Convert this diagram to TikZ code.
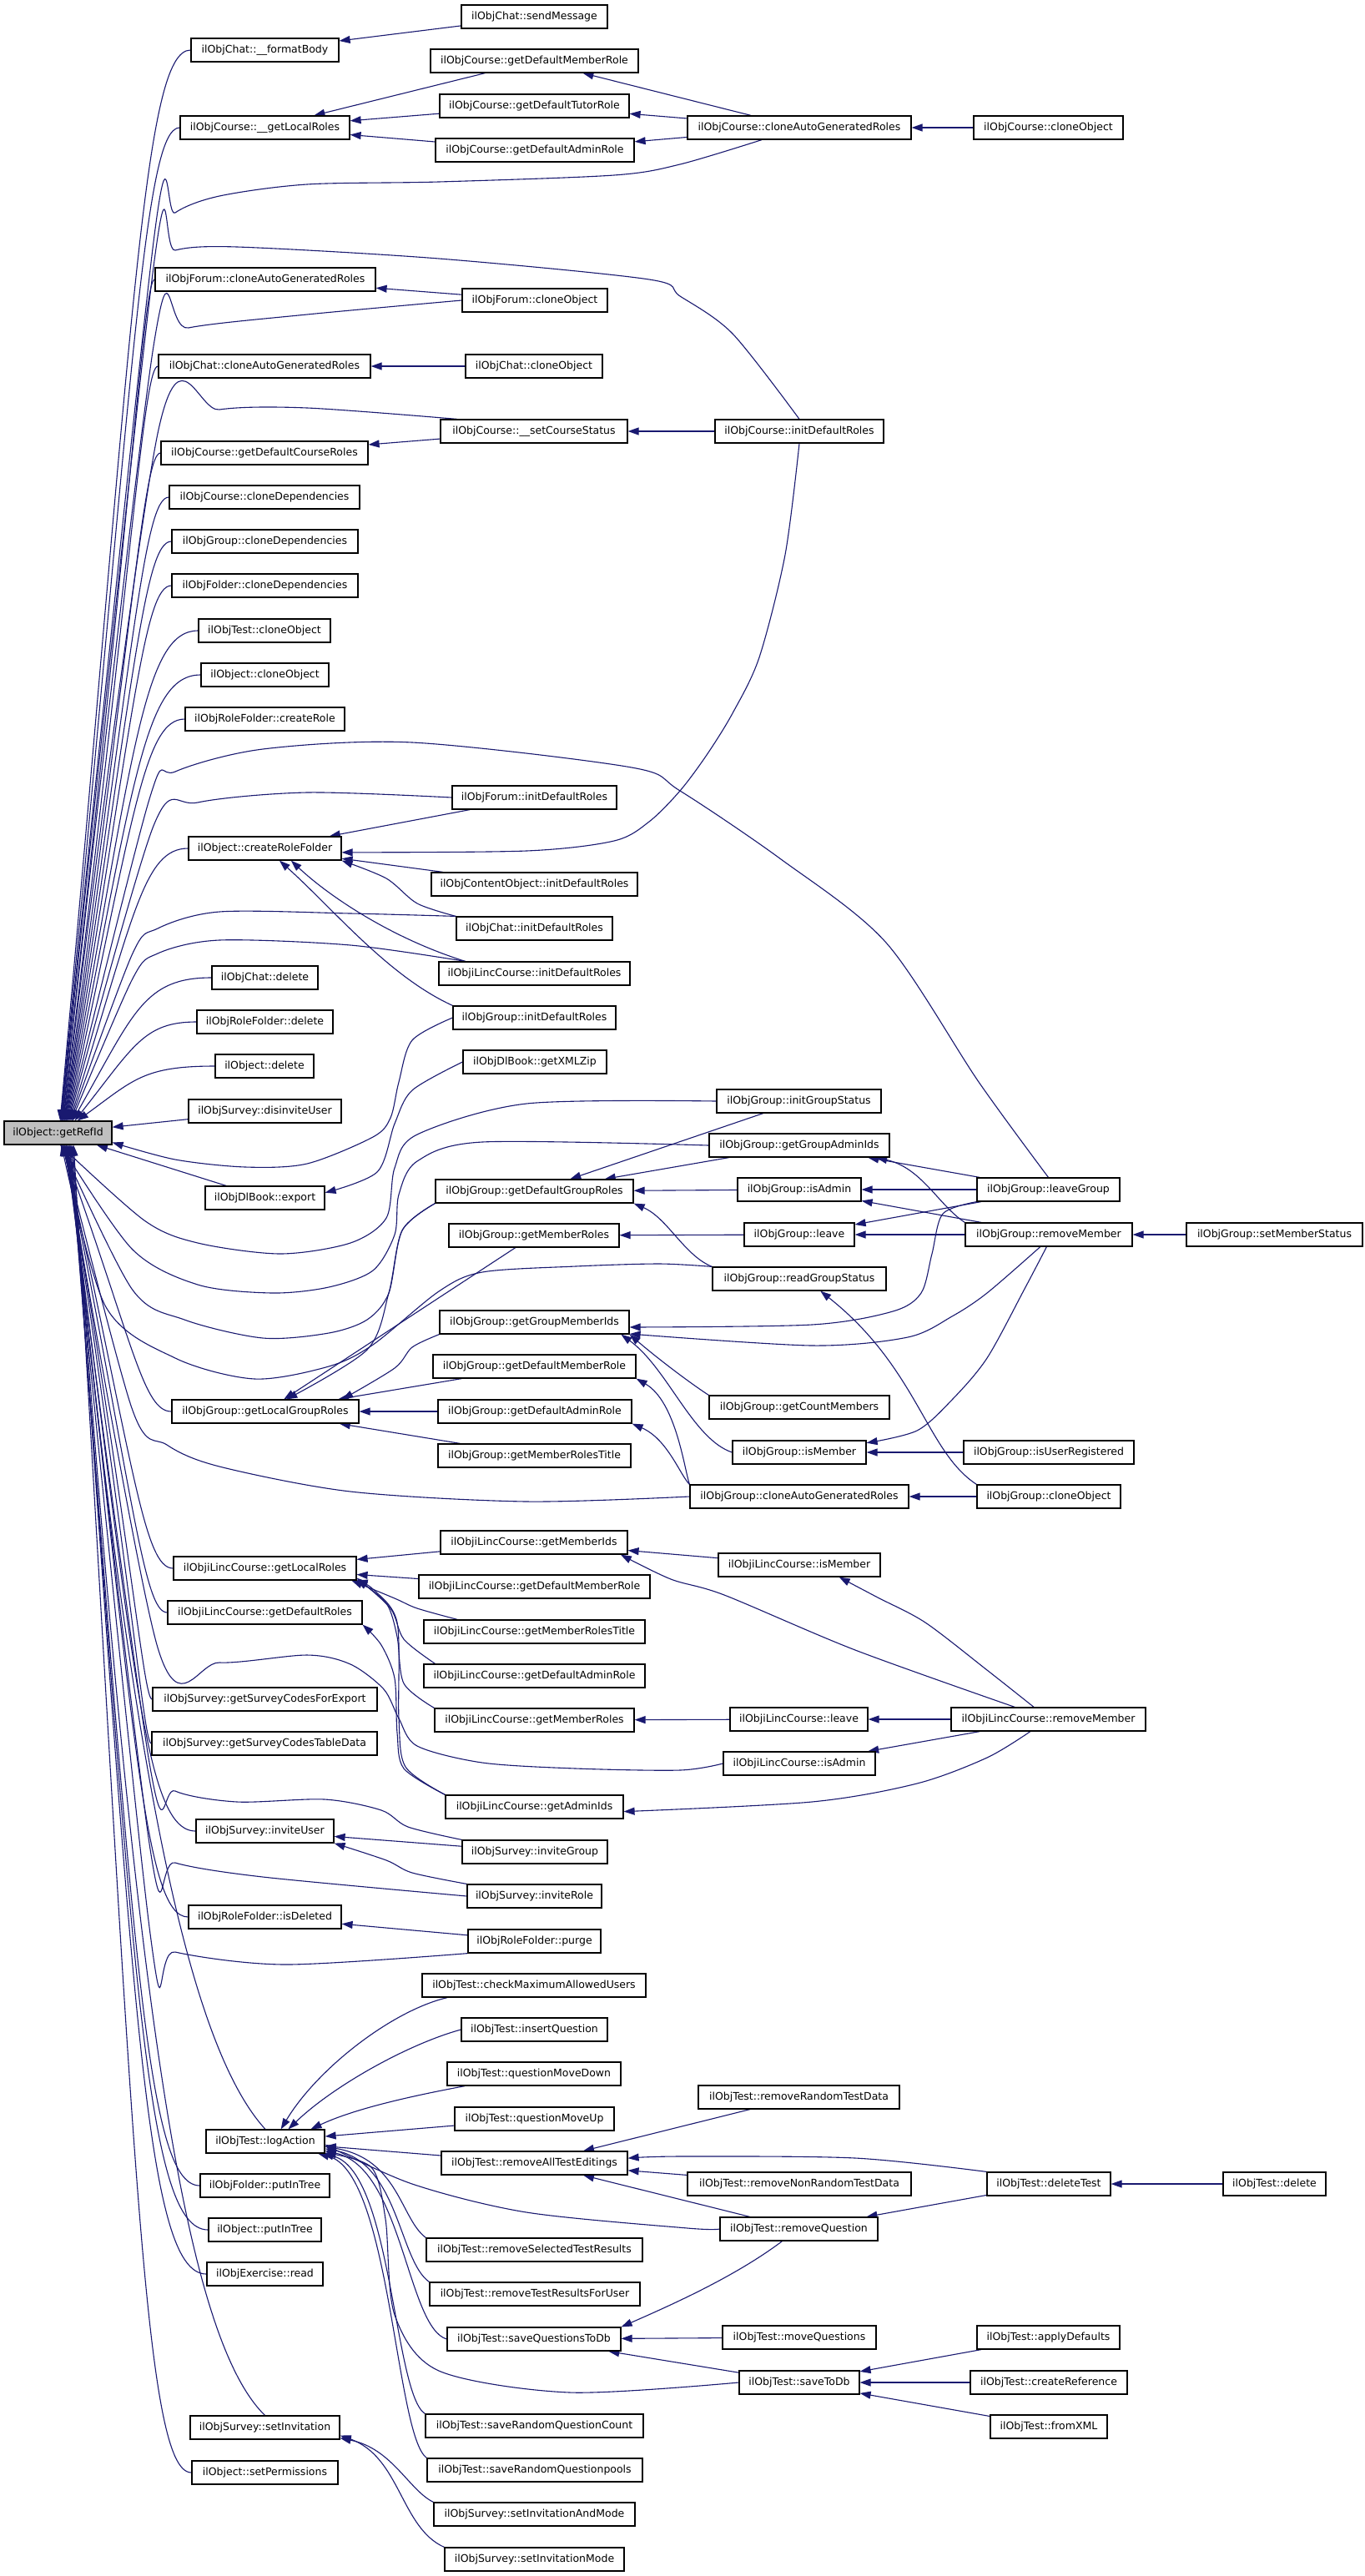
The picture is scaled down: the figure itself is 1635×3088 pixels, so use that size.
\documentclass[tikz,border=0pt]{standalone}
\usepackage{fontspec}
\setmainfont{DejaVu Sans}
\usetikzlibrary{arrows.meta}
\pgfdeclarelayer{bg}
\pgfsetlayers{bg,main}
\definecolor{ecol}{HTML}{191970}
\definecolor{gfill}{HTML}{BFBFBF}
\tikzset{
 nbox/.style={draw=black, line width=1.2pt, fill=white, rectangle, minimum height=28pt, inner sep=0pt, font=\fontsize{12.5}{14}\selectfont, text=black},
 conn/.style={draw=ecol, line width=1.1pt, -{Triangle[length=13pt,width=9pt]}},
}
\newcommand\mkn[5]{\node[nbox,minimum width={(#3)-(#2)}] (#1) at ({((#2)+(#3))/2},{(#4)+14}) {#5};}
\newcommand\eup[3]{\draw[conn] (#1.west) .. controls (172,#2) and (160,{#2+0.25*(1344-#2)}) .. (r.#3);}
\newcommand\edn[3]{\draw[conn] (#1.west) .. controls (172,#2) and (160,{#2-0.25*(#2-1373)}) .. (r.#3);}
\begin{document}
\begin{tikzpicture}[x=1pt,y=-1pt]
\useasboundingbox (0,0) rectangle (1635,3088);
\begin{pgfonlayer}{bg}
\fill[white] (0,0) rectangle (1635,3088);
\end{pgfonlayer}
% column 1
\mkn{fb}{229}{406}{46}{ilObjChat::\_\_formatBody}
\mkn{cglr}{216}{419}{139}{ilObjCourse::\_\_getLocalRoles}
\mkn{fcag}{186}{450}{321}{ilObjForum::cloneAutoGeneratedRoles}
\mkn{chcag}{190}{444}{425}{ilObjChat::cloneAutoGeneratedRoles}
\mkn{cgdcr}{193}{441}{529}{ilObjCourse::getDefaultCourseRoles}
\mkn{ccd}{203}{431}{582}{ilObjCourse::cloneDependencies}
\mkn{gcd}{206}{429}{635}{ilObjGroup::cloneDependencies}
\mkn{fcd}{206}{429}{688}{ilObjFolder::cloneDependencies}
\mkn{tco}{238}{396}{742}{ilObjTest::cloneObject}
\mkn{oco}{241}{394}{795}{ilObject::cloneObject}
\mkn{rfcr}{222}{413}{848}{ilObjRoleFolder::createRole}
\mkn{crf}{226}{409}{1003}{ilObject::createRoleFolder}
\mkn{chd}{254}{381}{1158}{ilObjChat::delete}
\mkn{rfd}{236}{399}{1211}{ilObjRoleFolder::delete}
\mkn{od}{258}{376}{1264}{ilObject::delete}
\mkn{sdu}{226}{409}{1318}{ilObjSurvey::disinviteUser}
\node[nbox,fill=gfill,minimum width=129pt] (r) at (69.5,1358) {ilObject::getRefId};
\mkn{dbe}{246}{389}{1422}{ilObjDlBook::export}
\mkn{glgr}{206}{430}{1678}{ilObjGroup::getLocalGroupRoles}
\mkn{lglr}{208}{427}{1866}{ilObjiLincCourse::getLocalRoles}
\mkn{lgdr}{201}{434}{1919}{ilObjiLincCourse::getDefaultRoles}
\mkn{sgce}{183}{452}{2023}{ilObjSurvey::getSurveyCodesForExport}
\mkn{sgct}{182}{452}{2076}{ilObjSurvey::getSurveyCodesTableData}
\mkn{siu}{235}{400}{2181}{ilObjSurvey::inviteUser}
\mkn{rfid}{226}{409}{2284}{ilObjRoleFolder::isDeleted}
\mkn{tla}{247}{389}{2553}{ilObjTest::logAction}
\mkn{fpt}{240}{395}{2606}{ilObjFolder::putInTree}
\mkn{opt}{250}{385}{2659}{ilObject::putInTree}
\mkn{er}{248}{387}{2712}{ilObjExercise::read}
\mkn{ssi}{228}{407}{2896}{ilObjSurvey::setInvitation}
\mkn{osp}{230}{405}{2950}{ilObject::setPermissions}
% column 2
\mkn{csm}{553}{728}{6}{ilObjChat::sendMessage}
\mkn{cdmr}{516}{765}{59}{ilObjCourse::getDefaultMemberRole}
\mkn{cdtr}{527}{754}{113}{ilObjCourse::getDefaultTutorRole}
\mkn{cdar}{522}{760}{166}{ilObjCourse::getDefaultAdminRole}
\mkn{fco}{554}{728}{346}{ilObjForum::cloneObject}
\mkn{chco}{558}{722}{425}{ilObjChat::cloneObject}
\mkn{cscs}{528}{752}{503}{ilObjCourse::\_\_setCourseStatus}
\mkn{fidr}{542}{739}{942}{ilObjForum::initDefaultRoles}
\mkn{coidr}{517}{764}{1046}{ilObjContentObject::initDefaultRoles}
\mkn{chidr}{547}{734}{1099}{ilObjChat::initDefaultRoles}
\mkn{lidr}{526}{755}{1153}{ilObjiLincCourse::initDefaultRoles}
\mkn{gidr}{543}{738}{1206}{ilObjGroup::initDefaultRoles}
\mkn{dbx}{555}{727}{1259}{ilObjDlBook::getXMLZip}
\mkn{gdgr}{522}{759}{1414}{ilObjGroup::getDefaultGroupRoles}
\mkn{gmr}{538}{742}{1467}{ilObjGroup::getMemberRoles}
\mkn{ggmi}{527}{754}{1571}{ilObjGroup::getGroupMemberIds}
\mkn{gdmr}{519}{762}{1624}{ilObjGroup::getDefaultMemberRole}
\mkn{gdar}{525}{757}{1678}{ilObjGroup::getDefaultAdminRole}
\mkn{gmrt}{525}{756}{1731}{ilObjGroup::getMemberRolesTitle}
\mkn{lgmi}{528}{752}{1835}{ilObjiLincCourse::getMemberIds}
\mkn{ldmr}{502}{779}{1888}{ilObjiLincCourse::getDefaultMemberRole}
\mkn{lmrt}{508}{773}{1942}{ilObjiLincCourse::getMemberRolesTitle}
\mkn{ldar}{508}{773}{1995}{ilObjiLincCourse::getDefaultAdminRole}
\mkn{lgmr}{521}{760}{2048}{ilObjiLincCourse::getMemberRoles}
\mkn{lgai}{534}{747}{2152}{ilObjiLincCourse::getAdminIds}
\mkn{sig}{554}{728}{2206}{ilObjSurvey::inviteGroup}
\mkn{sir}{560}{721}{2259}{ilObjSurvey::inviteRole}
\mkn{rfp}{561}{720}{2313}{ilObjRoleFolder::purge}
\mkn{tcmau}{506}{774}{2366}{ilObjTest::checkMaximumAllowedUsers}
\mkn{tiq}{553}{728}{2419}{ilObjTest::insertQuestion}
\mkn{tqmd}{536}{744}{2472}{ilObjTest::questionMoveDown}
\mkn{tqmu}{545}{736}{2526}{ilObjTest::questionMoveUp}
\mkn{trate}{529}{752}{2579}{ilObjTest::removeAllTestEditings}
\mkn{trstr}{511}{770}{2683}{ilObjTest::removeSelectedTestResults}
\mkn{trtru}{515}{767}{2736}{ilObjTest::removeTestResultsForUser}
\mkn{tsqd}{536}{744}{2790}{ilObjTest::saveQuestionsToDb}
\mkn{tsrqc}{510}{771}{2894}{ilObjTest::saveRandomQuestionCount}
\mkn{tsrqp}{512}{770}{2947}{ilObjTest::saveRandomQuestionpools}
\mkn{ssam}{520}{761}{3000}{ilObjSurvey::setInvitationAndMode}
\mkn{ssim}{533}{748}{3054}{ilObjSurvey::setInvitationMode}
% column 3
\mkn{ccag}{824}{1092}{139}{ilObjCourse::cloneAutoGeneratedRoles}
\mkn{cidr}{857}{1059}{503}{ilObjCourse::initDefaultRoles}
\mkn{gigs}{859}{1056}{1306}{ilObjGroup::initGroupStatus}
\mkn{ggai}{850}{1066}{1359}{ilObjGroup::getGroupAdminIds}
\mkn{gia}{884}{1032}{1412}{ilObjGroup::isAdmin}
\mkn{gl}{892}{1024}{1466}{ilObjGroup::leave}
\mkn{grgs}{854}{1062}{1519}{ilObjGroup::readGroupStatus}
\mkn{gcm}{850}{1066}{1673}{ilObjGroup::getCountMembers}
\mkn{gim}{878}{1038}{1727}{ilObjGroup::isMember}
\mkn{gcag}{827}{1089}{1780}{ilObjGroup::cloneAutoGeneratedRoles}
\mkn{lim}{861}{1055}{1862}{ilObjiLincCourse::isMember}
\mkn{ll}{875}{1040}{2047}{ilObjiLincCourse::leave}
\mkn{lia}{867}{1049}{2100}{ilObjiLincCourse::isAdmin}
\mkn{trrtd}{837}{1078}{2500}{ilObjTest::removeRandomTestData}
\mkn{trnrtd}{824}{1092}{2604}{ilObjTest::removeNonRandomTestData}
\mkn{trq}{863}{1052}{2658}{ilObjTest::removeQuestion}
\mkn{tmq}{866}{1050}{2788}{ilObjTest::moveQuestions}
\mkn{tstd}{886}{1030}{2842}{ilObjTest::saveToDb}
% column 4
\mkn{cco}{1167}{1346}{139}{ilObjCourse::cloneObject}
\mkn{glg}{1171}{1342}{1412}{ilObjGroup::leaveGroup}
\mkn{grm}{1157}{1357}{1466}{ilObjGroup::removeMember}
\mkn{giur}{1155}{1359}{1727}{ilObjGroup::isUserRegistered}
\mkn{gco}{1171}{1343}{1780}{ilObjGroup::cloneObject}
\mkn{lrm}{1140}{1373}{2047}{ilObjiLincCourse::removeMember}
\mkn{tdt}{1183}{1331}{2604}{ilObjTest::deleteTest}
\mkn{tad}{1171}{1342}{2788}{ilObjTest::applyDefaults}
\mkn{tcr}{1163}{1351}{2842}{ilObjTest::createReference}
\mkn{tfx}{1187}{1327}{2895}{ilObjTest::fromXML}
% column 5
\mkn{gsms}{1422}{1633}{1466}{ilObjGroup::setMemberStatus}
\mkn{tdel}{1466}{1589}{2604}{ilObjTest::delete}

\begin{pgfonlayer}{bg}
% ---- edges into getRefId from above
\eup{fb}{60}{80}
\eup{cglr}{153}{78}
\eup{fcag}{335}{72}
\eup{chcag}{439}{68}
\eup{cgdcr}{543}{64}
\eup{ccd}{596}{62}
\eup{gcd}{649}{60}
\eup{fcd}{702}{58}
\eup{tco}{756}{56}
\eup{oco}{809}{54}
\eup{rfcr}{862}{52}
\eup{crf}{1017}{46}
\eup{chd}{1172}{40}
\eup{rfd}{1225}{36}
\eup{od}{1278}{32}
\draw[conn] (sdu) -- (r);
\draw[conn] plot[smooth] coordinates {(ccag.-162) (815,197) (736,210) (526,218) (368,221) (263,235) (210,255) (184,290) (r.76)};
\draw[conn] plot[smooth] coordinates {(cidr.north) (878,400) (815,355) (778,335) (526,310) (284,296) (210,300) (184,320) (r.74)};
\draw[conn] plot[smooth] coordinates {(fco.west) (368,377) (226,393) (184,415) (r.70)};
\draw[conn] plot[smooth] coordinates {(cscs.171) (368,489) (263,491) (190,515) (r.66)};
\draw[conn] plot[smooth] coordinates {(glg.north) (1173,1297) (1062,1130) (936,1030) (815,948) (757,920) (494,890) (315,898) (210,925) (179,958) (r.50)};
\draw[conn] plot[smooth] coordinates {(fidr.west) (368,950) (237,962) (184,990) (r.48)};
\draw[conn] plot[smooth] coordinates {(chidr.north west) (420,1095) (263,1093) (189,1113) (158,1145) (r.44)};
\draw[conn] plot[smooth] coordinates {(lidr.170) (420,1133) (263,1127) (189,1143) (158,1175) (r.42)};
% ---- edges into getRefId from below
\draw[conn] plot[smooth] coordinates {(gidr.west) (494,1247) (478,1297) (468,1340) (447,1363) (368,1395) (294,1399) (210,1390) (r.-10)};
\draw[conn] (dbe) -- (r);
\draw[conn] plot[smooth] coordinates {(gigs.west) (631,1323) (500,1360) (473,1400) (463,1460) (420,1490) (336,1503) (237,1490) (173,1463) (r.-80)};
\draw[conn] plot[smooth] coordinates {(ggai.west) (578,1369) (500,1392) (478,1432) (473,1480) (447,1523) (394,1543) (326,1550) (237,1540) (158,1497) (r.-78)};
\draw[conn] plot[smooth] coordinates {(gdgr.south west) (482,1475) (466,1550) (440,1582) (394,1598) (315,1604) (221,1582) (158,1545) (r.-76)};
\draw[conn] plot[smooth] coordinates {(grgs.north west) (790,1515) (690,1518) (578,1525) (526,1548) (447,1612) (394,1638) (305,1653) (210,1628) (126,1565) (r.-74)};
\edn{glgr}{1692}{-72}
\draw[conn] plot[smooth] coordinates {(gcag.west) (631,1800) (420,1788) (263,1758) (200,1732) (158,1688) (r.-70)};
\edn{lglr}{1880}{-68}
\edn{lgdr}{1933}{-66}
\draw[conn] plot[smooth] coordinates {(lia.west) (815,2122) (690,2120) (578,2113) (500,2093) (478,2060) (460,2025) (420,1995) (368,1984) (263,1993) (189,1975) (r.-64)};
\edn{sgce}{2037}{-62}
\edn{sgct}{2090}{-60}
\draw[conn] plot[smooth] coordinates {(sig.north west) (489,2190) (457,2170) (389,2157) (284,2160) (210,2147) (179,2113) (r.-58)};
\edn{siu}{2195}{-56}
\draw[conn] plot[smooth] coordinates {(sir.west) (315,2250) (210,2233) (179,2210) (r.-54)};
\edn{rfid}{2298}{-52}
\draw[conn] plot[smooth] coordinates {(rfp.south west) (342,2355) (210,2340) (180,2318) (r.-50)};
\draw[conn] (tla.north) .. controls (215,2440) and (150,2050) .. (r.-48);
\edn{fpt}{2620}{-46}
\edn{opt}{2673}{-44}
\edn{er}{2726}{-42}
\draw[conn] (ssi.north) .. controls (220,2800) and (160,2400) .. (r.-40);
\edn{osp}{2964}{-38}
% ---- Course / Chat / Forum
\draw[conn] (csm) -- (fb);
\draw[conn] (cdmr) -- (cglr);
\draw[conn] (cdtr) -- (cglr);
\draw[conn] (cdar) -- (cglr);
\draw[conn] (ccag) -- (cdmr);
\draw[conn] (ccag) -- (cdtr);
\draw[conn] (ccag) -- (cdar);
\draw[conn] (cco) -- (ccag);
\draw[conn] (fco) -- (fcag);
\draw[conn] (chco) -- (chcag);
\draw[conn] (cidr) -- (cscs);
\draw[conn] (cscs) -- (cgdcr);
% ---- createRoleFolder
\draw[conn] (fidr) -- (crf);
\draw[conn] plot[smooth] coordinates {(cidr.south) (941,665) (910,788) (878,855) (847,905) (815,948) (778,985) (736,1008) (631,1020) (crf.-3)};
\draw[conn] (coidr) -- (crf);
\draw[conn] plot[smooth] coordinates {(chidr.north west) (500,1083) (463,1053) (crf.south east)};
\draw[conn] (lidr.170) .. controls (470,1125) and (395,1075) .. (crf.-25);
\draw[conn] (gidr.north west) .. controls (465,1170) and (400,1090) .. (crf.-40);
\draw[conn] plot[smooth] coordinates {(dbx.west) (494,1307) (473,1347) (452,1405) (dbe.5)};
% ---- Group
\draw[conn] (gigs) -- (gdgr);
\draw[conn] (ggai) -- (gdgr);
\draw[conn] (gia) -- (gdgr);
\draw[conn] (grgs.north west) .. controls (820,1505) and (800,1460) .. (gdgr.south east);
\draw[conn] (glg) -- (ggai);
\draw[conn] (grm.north west) .. controls (1125,1445) and (1105,1400) .. (ggai.-9);
\draw[conn] (glg) -- (gia);
\draw[conn] (grm) -- (gia);
\draw[conn] (glg) -- (gl);
\draw[conn] (grm) -- (gl);
\draw[conn] (gsms) -- (grm);
\draw[conn] (gl) -- (gmr);
\draw[conn] plot[smooth] coordinates {(glg.south west) (1130,1455) (1117,1503) (1104,1550) (1070,1572) (973,1588) (ggmi.-3)};
\draw[conn] plot[smooth] coordinates {(grm.-125) (1183,1550) (1141,1578) (1088,1603) (973,1613) (ggmi.-7)};
\draw[conn] plot[smooth] coordinates {(grm.-100) (1228,1545) (1183,1628) (1141,1678) (1099,1715) (gim.8)};
\draw[conn] (giur) -- (gim);
\draw[conn] (gco) -- (gcag);
\draw[conn] (gco.north west) .. controls (1110,1740) and (1100,1640) .. (grgs.-30);
\draw[conn] (gcm.north west) .. controls (830,1660) and (790,1630) .. (ggmi.south east);
\draw[conn] (gim.west) .. controls (830,1725) and (800,1640) .. (ggmi.-8);
\draw[conn] (gcag.north west) .. controls (820,1760) and (810,1680) .. (gdmr.south east);
\draw[conn] (gcag.north west) .. controls (815,1768) and (800,1725) .. (gdar.south east);
\draw[conn] (gdmr) -- (glgr);
\draw[conn] plot[smooth] coordinates {(ggmi.south west) (494,1615) (473,1640) (glgr.9)};
\draw[conn] (gdar) -- (glgr);
\draw[conn] (gmrt) -- (glgr);
\draw[conn] (gmr) -- (glgr);
\draw[conn] plot[smooth] coordinates {(gdgr.south west) (482,1475) (466,1550) (440,1618) (glgr.30)};
% ---- iLinc
\draw[conn] (lgmi) -- (lglr);
\draw[conn] (ldmr) -- (lglr);
\draw[conn] plot[smooth] coordinates {(lmrt.171) (500,1928) (473,1916) (lglr.-8)};
\draw[conn] plot[smooth] coordinates {(ldar.173) (484,1965) (468,1928) (lglr.-6)};
\draw[conn] plot[smooth] coordinates {(lgmr.north west) (484,2018) (476,1962) (463,1922) (lglr.-7)};
\draw[conn] plot[smooth] coordinates {(lgai.north west) (484,2120) (476,2077) (473,2012) (457,1972) (lgdr.south east)};
\draw[conn] plot[smooth] coordinates {(lgai.north west) (486,2118) (478,2060) (476,1945) (447,1905) (lglr.south east)};
\draw[conn] (lim) -- (lgmi);
\draw[conn] plot[smooth] coordinates {(lrm.160) (1025,1978) (868,1912) (804,1893) (lgmi.-8)};
\draw[conn] plot[smooth] coordinates {(lrm.140) (1183,2002) (1109,1945) (1052,1915) (lim.-17)};
\draw[conn] (ll) -- (lgmr);
\draw[conn] (lrm) -- (ll);
\draw[conn] (lrm) -- (lia);
\draw[conn] plot[smooth] coordinates {(lrm.-146) (1183,2107) (1099,2138) (973,2160) (lgai.-3)};
% ---- Survey / RoleFolder
\draw[conn] (sig) -- (siu);
\draw[conn] plot[smooth] coordinates {(sir.north west) (494,2245) (463,2230) (siu.south east)};
\draw[conn] (rfp) -- (rfid);
\draw[conn] (ssam.north west) .. controls (490,2985) and (470,2935) .. (ssi.-8);
\draw[conn] (ssim.north west) .. controls (480,3030) and (480,2945) .. (ssi.-6);
% ---- Test
\draw[conn] (tcmau.-172) .. controls (470,2410) and (380,2480) .. (tla.38);
\draw[conn] (tiq.west) .. controls (490,2450) and (400,2500) .. (tla.28);
\draw[conn] (tqmd.-170) .. controls (480,2515) and (420,2530) .. (tla.15);
\draw[conn] (tqmu) -- (tla);
\draw[conn] (trate) -- (tla);
\draw[conn] plot[smooth] coordinates {(trq.west) (824,2671) (631,2652) (494,2618) (tla.-3)};
\draw[conn] (trstr.north west) .. controls (480,2660) and (478,2588) .. (tla.-5);
\draw[conn] (trtru.north west) .. controls (478,2710) and (478,2592) .. (tla.-7);
\draw[conn] (tsqd.west) .. controls (488,2790) and (482,2598) .. (tla.-9);
\draw[conn] plot[smooth] coordinates {(tstd.west) (683,2868) (526,2842) (473,2775) (462,2660) (445,2598) (tla.-11)};
\draw[conn] (tsrqc.north west) .. controls (472,2870) and (470,2602) .. (tla.-12);
\draw[conn] (tsrqp.north west) .. controls (474,2920) and (468,2604) .. (tla.-13);
\draw[conn] (trrtd) -- (trate);
\draw[conn] (trnrtd) -- (trate);
\draw[conn] plot[smooth] coordinates {(tdt.north west) (1025,2587) (815,2585) (trate.3)};
\draw[conn] (trq) -- (trate);
\draw[conn] (tdt) -- (trq);
\draw[conn] (tdel) -- (tdt);
\draw[conn] (trq.-144) .. controls (880,2730) and (800,2765) .. (tsqd.north east);
\draw[conn] (tmq) -- (tsqd);
\draw[conn] (tstd) -- (tsqd);
\draw[conn] (tad) -- (tstd);
\draw[conn] (tcr) -- (tstd);
\draw[conn] (tfx) -- (tstd);
\end{pgfonlayer}
\end{tikzpicture}
\end{document}
